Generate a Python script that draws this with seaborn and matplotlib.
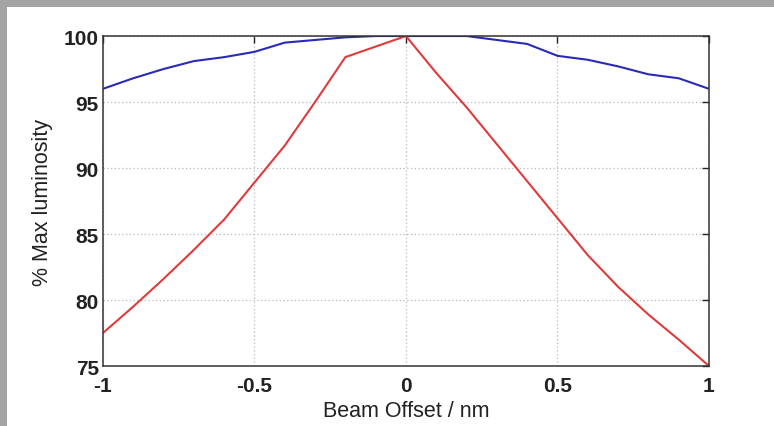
import numpy as np
import pandas as pd
import seaborn as sns
import matplotlib
matplotlib.use("Agg")
import matplotlib.pyplot as plt
from matplotlib.patches import Rectangle

# Beam offset (nm) and relative luminosity (%) for the two configurations
offset = [-1.0, -0.9, -0.8, -0.7, -0.6, -0.5, -0.4, -0.3, -0.2, -0.1, 0.0,
          0.1, 0.2, 0.3, 0.4, 0.5, 0.6, 0.7, 0.8, 0.9, 1.0]
lumi_blue = [96.0, 96.8, 97.5, 98.1, 98.4, 98.8, 99.5, 99.7, 99.9, 100.0, 100.0,
             100.0, 100.0, 99.7, 99.4, 98.5, 98.2, 97.7, 97.1, 96.8, 96.0]
lumi_red = [77.5, 79.5, 81.6, 83.8, 86.1, 88.9, 91.7, 95.0, 98.4, 99.2, 100.0,
            97.2, 94.6, 91.8, 89.0, 86.2, 83.4, 81.0, 78.9, 77.0, 75.0]

x_ticks = [-1, -0.5, 0, 0.5, 1]
x_tick_labels = ["-1", "-0.5", "0", "0.5", "1"]
y_ticks = [75, 80, 85, 90, 95, 100]

df = pd.DataFrame({
    "offset": offset * 2,
    "lumi": lumi_blue + lumi_red,
    "series": ["blue"] * len(offset) + ["red"] * len(offset),
})

sns.set_style("white")
plt.rcParams["font.family"] = ["Liberation Sans", "DejaVu Sans"]

fig = plt.figure(figsize=(7.74, 4.27), dpi=100)
fig.patch.set_facecolor("white")

# grey frame strips along the top and left edges
fig.patches.append(Rectangle((0, 0.981), 1, 0.019, transform=fig.transFigure,
                             facecolor="#a4a4a4", edgecolor="none", zorder=0))
fig.patches.append(Rectangle((0, 0), 0.009, 1, transform=fig.transFigure,
                             facecolor="#a4a4a4", edgecolor="none", zorder=0))

ax = fig.add_axes([0.133, 0.1405, 0.783, 0.7728])
sns.lineplot(data=df, x="offset", y="lumi", hue="series",
             palette={"blue": "#2a2ab8", "red": "#e03a3a"},
             linewidth=1.5, legend=False, ax=ax)

ax.set_xlim(-1, 1)
ax.set_ylim(75, 100)
ax.set_xticks(x_ticks)
ax.set_xticklabels(x_tick_labels)
ax.set_yticks(y_ticks)

ax.grid(True, linestyle=(0, (1, 2)), color="#b8b8b8", linewidth=0.9)
ax.tick_params(direction="in", length=5, width=1, top=True, right=True,
               labelsize=15, colors="#222222")
ax.tick_params(axis="x", pad=7)
ax.tick_params(axis="y", pad=3)
for lab in ax.get_xticklabels() + ax.get_yticklabels():
    lab.set_fontweight("bold")
for s in ax.spines.values():
    s.set_color("#333333")
    s.set_linewidth(1.1)

ax.set_xlabel("Beam Offset / nm", fontsize=15.5, color="#222222", labelpad=4)
ax.set_ylabel("% Max luminosity", fontsize=15.5, color="#222222", labelpad=8)

fig.savefig("out.png", dpi=100)
